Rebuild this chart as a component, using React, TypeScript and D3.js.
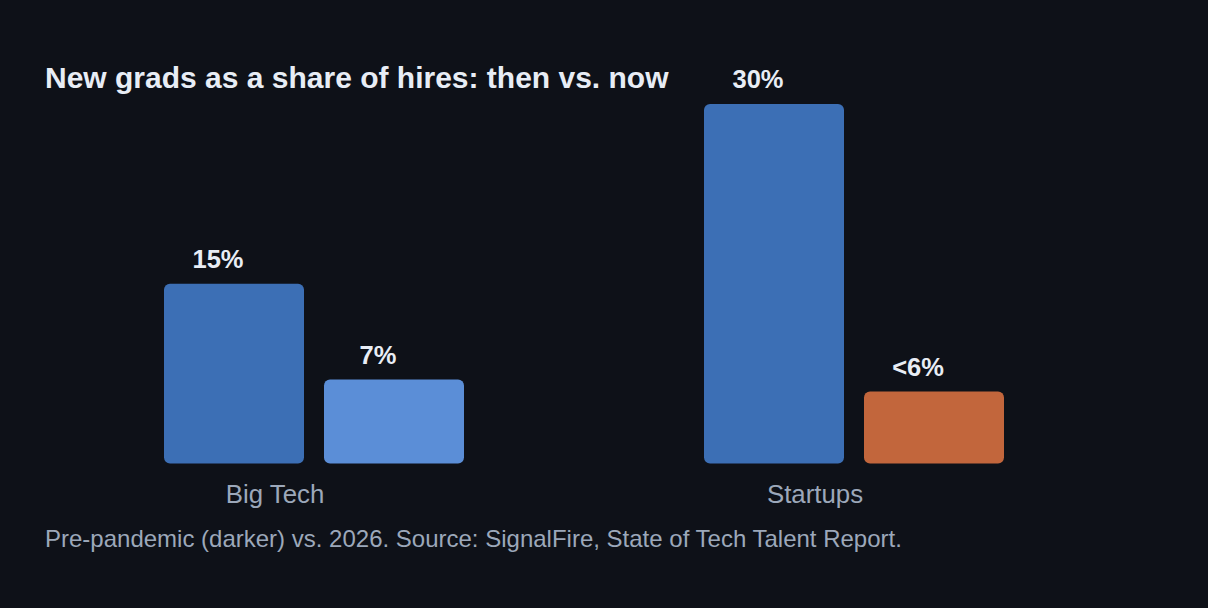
import React from "react";
import * as d3 from "d3";

const categories = ["Big Tech", "Startups"];
const periods = ["then", "now"];
const thenValues = [15, 30];
const nowValues = [7, 6];
const valueLabels = [["15%", "7%"], ["30%", "<6%"]];

const W = 1208;
const H = 608;
const BG = "#0e1118";
const FONT = "'Liberation Sans', Arial, Helvetica, sans-serif";

const colors: Record<string, string[]> = {
  then: ["#3c6fb5", "#3c6fb5"],
  now: ["#5b8ed7", "#c2663c"],
};

export default function App() {
  const x0 = d3.scaleBand().domain(categories).range([164, 1004]).paddingInner(240 / 540).paddingOuter(0);
  const x1 = d3.scaleBand().domain(periods).range([0, x0.bandwidth()]).paddingInner(0.125).paddingOuter(0);
  const y = d3.scaleLinear().domain([0, 30]).range([463.5, 104]);

  const rows = categories.map((c, i) => ({
    cat: c,
    values: [
      { period: "then", v: thenValues[i], label: valueLabels[i][0] },
      { period: "now", v: nowValues[i], label: valueLabels[i][1] },
    ],
  }));

  return (
    <div style={{ position: "absolute", left: 0, top: 0, width: W, height: H, background: BG }}>
      <svg width={W} height={H} style={{ display: "block", background: BG }}>
        <text x={45} y={88} fill="#e8edf5" fontFamily={FONT} fontWeight="bold" fontSize={30}>
          New grads as a share of hires: then vs. now
        </text>
        {rows.map((r, i) => {
          const gx = x0(r.cat)!;
          return (
            <g key={r.cat} transform={`translate(${gx},0)`}>
              {r.values.map((d) => {
                const bx = x1(d.period)!;
                const top = y(d.v);
                return (
                  <g key={d.period}>
                    <rect
                      x={bx}
                      y={top}
                      width={x1.bandwidth()}
                      height={y(0) - top}
                      rx={6}
                      ry={6}
                      fill={colors[d.period][i]}
                    />
                    <text
                      x={bx + x1.bandwidth() / 2 - 16}
                      y={top - 16}
                      textAnchor="middle"
                      fill="#e8edf5"
                      fontFamily={FONT}
                      fontWeight="bold"
                      fontSize={25.5}
                    >
                      {d.label}
                    </text>
                  </g>
                );
              })}
              <text
                x={111}
                y={503}
                textAnchor="middle"
                fill="#9ca8ba"
                fontFamily={FONT}
                fontSize={25.8}
              >
                {r.cat}
              </text>
            </g>
          );
        })}
        <text x={45} y={547} fill="#9ca8ba" fontFamily={FONT} fontSize={24}>
          Pre-pandemic (darker) vs. 2026. Source: SignalFire, State of Tech Talent Report.
        </text>
      </svg>
    </div>
  );
}
